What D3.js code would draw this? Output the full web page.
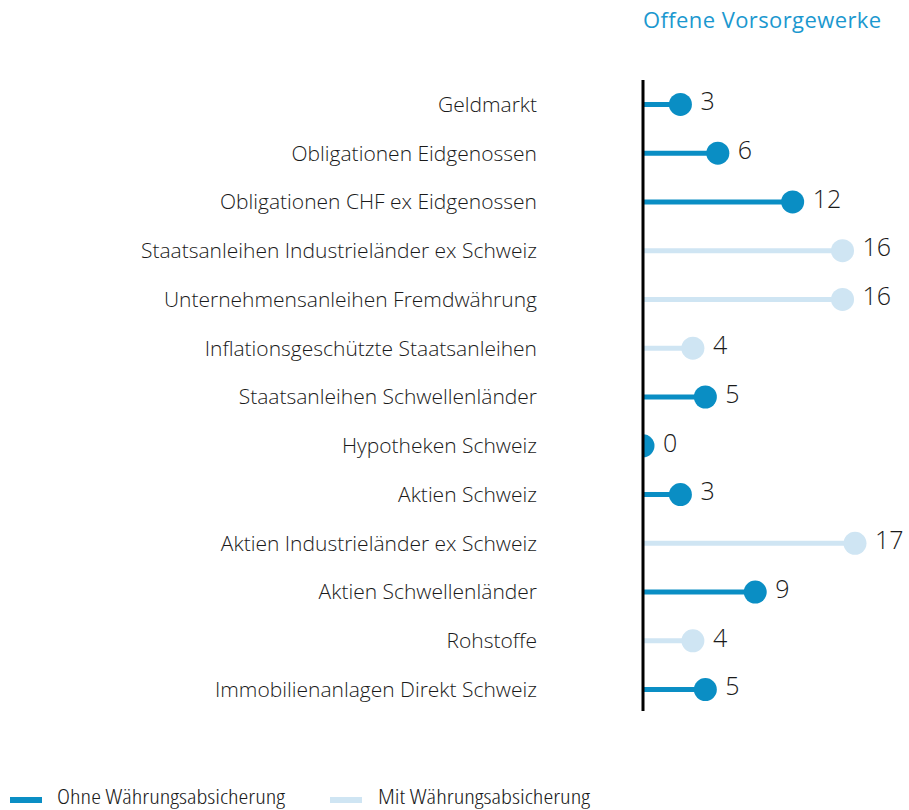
<!DOCTYPE html>
<html>
<head>
<meta charset="utf-8">
<script src="https://cdn.jsdelivr.net/npm/d3@7"></script>
<style>
  body { margin: 0; background: #fff; }
  svg { display: block; }
</style>
</head>
<body>
<div id="chart"></div>
<script>
// Anzahl offene Vorsorgewerke je Anlageklasse
const categories = [
  'Geldmarkt',
  'Obligationen Eidgenossen',
  'Obligationen CHF ex Eidgenossen',
  'Staatsanleihen Industrieländer ex Schweiz',
  'Unternehmensanleihen Fremdwährung',
  'Inflationsgeschützte Staatsanleihen',
  'Staatsanleihen Schwellenländer',
  'Hypotheken Schweiz',
  'Aktien Schweiz',
  'Aktien Industrieländer ex Schweiz',
  'Aktien Schwellenländer',
  'Rohstoffe',
  'Immobilienanlagen Direkt Schweiz',
];
const values = [3, 6, 12, 16, 16, 4, 5, 0, 3, 17, 9, 4, 5];
// true = mit Währungsabsicherung
const hedged = [false, false, false, true, true, true, false, false, false, true, false, true, false];
const legendLabels = ['Ohne Währungsabsicherung', 'Mit Währungsabsicherung'];
const title = 'Offene Vorsorgewerke';

const W = 909, H = 810;
const DARK = '#0a8ec4';
const LIGHT = '#cfe5f3';
const FONT = '"Open Sans", sans-serif';

const svg = d3.select('#chart').append('svg').attr('width', W).attr('height', H);

const x = d3.scaleLinear().domain([0, 17]).range([643, 855]);
const y = d3.scaleBand().domain(categories).range([80, 714]).padding(0);

// dots don't spill left of the axis (see value 0)
svg.append('defs').append('clipPath').attr('id', 'plot')
  .append('rect').attr('x', x(0)).attr('y', 0).attr('width', W - x(0)).attr('height', H);

// title
svg.append('text')
  .attr('x', 643).attr('y', 28)
  .attr('fill', '#1b98cf')
  .style('font-family', FONT).style('font-size', '22px')
  .style('letter-spacing', '0.4px')
  .text(title);

const rows = categories.map((c, i) => ({ c, v: values[i], h: hedged[i] }));

const g = svg.append('g');
const marks = g.append('g').attr('clip-path', 'url(#plot)');

// stems
marks.selectAll('line.stem').data(rows).join('line')
  .attr('class', 'stem')
  .attr('x1', x(0)).attr('x2', d => x(d.v))
  .attr('y1', d => y(d.c) + y.bandwidth() / 2)
  .attr('y2', d => y(d.c) + y.bandwidth() / 2)
  .attr('stroke', d => d.h ? LIGHT : DARK)
  .attr('stroke-width', 5);

// dots
marks.selectAll('circle').data(rows).join('circle')
  .attr('cx', d => x(d.v))
  .attr('cy', d => y(d.c) + y.bandwidth() / 2)
  .attr('r', 11.5)
  .attr('fill', d => d.h ? LIGHT : DARK);

// axis line
svg.append('line')
  .attr('x1', x(0)).attr('x2', x(0))
  .attr('y1', 80).attr('y2', 711)
  .attr('stroke', '#000').attr('stroke-width', 3);

// category labels
g.selectAll('text.cat').data(rows).join('text')
  .attr('class', 'cat')
  .attr('x', 537)
  .attr('y', d => y(d.c) + y.bandwidth() / 2)
  .attr('dy', '0.35em')
  .attr('text-anchor', 'end')
  .attr('fill', '#1a1a1a')
  .style('font-family', FONT).style('font-size', '21px')
  .style('font-weight', 300)
  .text(d => d.c);

// value labels
g.selectAll('text.val').data(rows).join('text')
  .attr('class', 'val')
  .attr('x', d => x(d.v) + 20)
  .attr('y', d => y(d.c) + y.bandwidth() / 2 - 3)
  .attr('dy', '0.35em')
  .attr('fill', '#1a1a1a')
  .style('font-family', FONT).style('font-size', '25px')
  .style('font-weight', 300)
  .text(d => d.v);

// legend
const legend = svg.append('g');
const legendItems = [
  { label: legendLabels[0], color: DARK, x: 10, w: 32, tx: 57, tw: 228 },
  { label: legendLabels[1], color: LIGHT, x: 330, w: 32, tx: 378, tw: 212 },
];
legendItems.forEach(it => {
  legend.append('rect')
    .attr('x', it.x).attr('y', 797).attr('width', it.w).attr('height', 6)
    .attr('fill', it.color);
  legend.append('text')
    .attr('x', it.tx).attr('y', 804)
    .attr('fill', '#1a1a1a')
    .attr('textLength', it.tw)
    .attr('lengthAdjust', 'spacingAndGlyphs')
    .style('font-family', FONT).style('font-size', '20px')
    .style('font-weight', 300)
    .style('font-stretch', 'condensed')
    .text(it.label);
});
</script>
</body>
</html>
